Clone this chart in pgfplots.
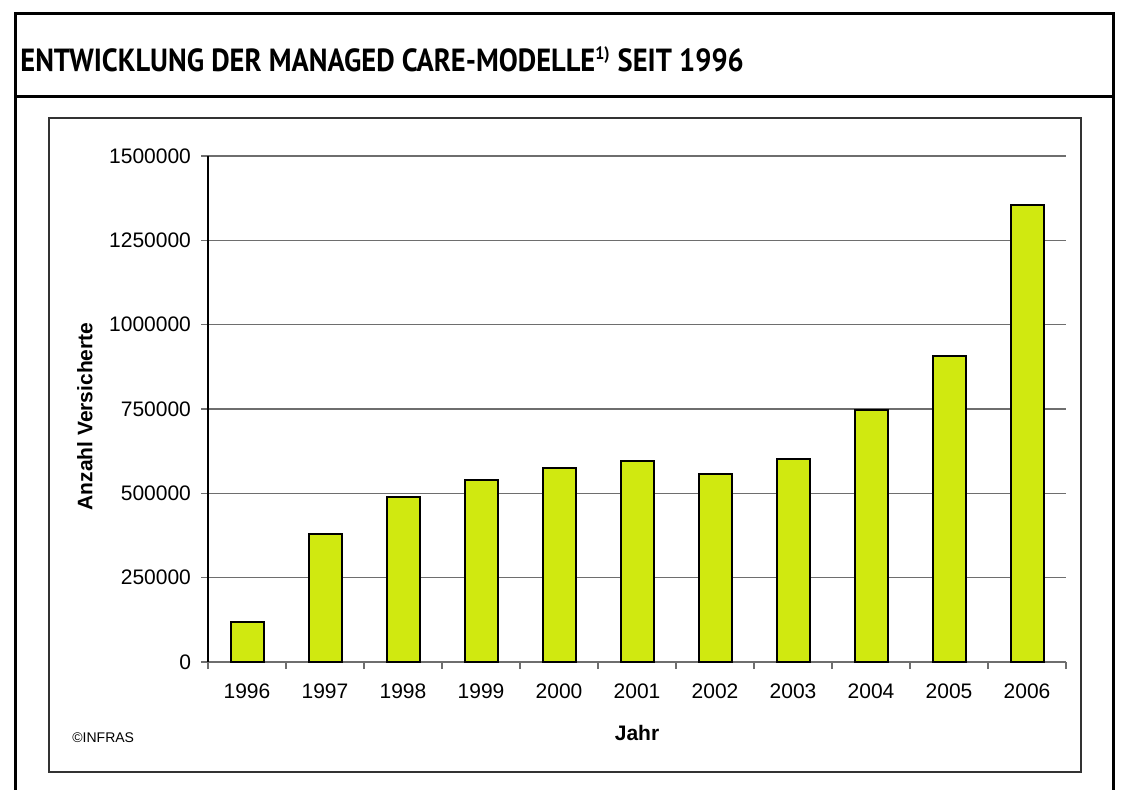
\documentclass[border=0pt]{standalone}
\usepackage{fontspec}
\setmainfont{Liberation Sans}
\newfontfamily\titlefont{PT Sans}
\usepackage{pgfplots}
\pgfplotsset{compat=1.18}
\definecolor{barfill}{RGB}{208,233,16}
\definecolor{gridgray}{RGB}{110,110,110}
\begin{document}
\begin{tikzpicture}
\useasboundingbox (0,0) rectangle (561pt,394.5pt);
% outer frame
\draw[line width=1.5pt] (7.5pt,-3pt) -- (7.5pt,387.5pt) -- (556.5pt,387.5pt) -- (556.5pt,-3pt);
\draw[line width=1.5pt] (7.5pt,346pt) -- (556.5pt,346pt);
\node[anchor=base west, inner sep=0pt, font=\titlefont\bfseries\fontsize{16}{18}\selectfont] at (10pt,358.5pt)
  {\scalebox{0.89}[1]{ENTWICKLUNG DER MANAGED CARE-MODELLE\textsuperscript{\fontsize{9}{10}\selectfont 1)} SEIT 1996}};
% inner frame
\draw[line width=0.8pt, black!80] (24.5pt,8.5pt) rectangle (540.5pt,335.5pt);
\node[anchor=west, inner sep=0pt, font=\fontsize{7}{8}\selectfont] at (36pt,25.5pt) {©INFRAS};
\begin{axis}[
  at={(104pt,63.5pt)}, anchor=south west,
  scale only axis, width=429pt, height=253pt,
  xmin=-0.5, xmax=10.5, ymin=0, ymax=1500000,
  axis lines*=left,
  axis line style={line width=0.6pt},
  x axis line style={gridgray},
  y axis line style={black},
  xtick={0,...,10},
  xticklabels={1996,1997,1998,1999,2000,2001,2002,2003,2004,2005,2006},
  major x tick style={draw=none},
  minor xtick={-0.5,0.5,...,10.5},
  minor x tick style={gridgray, line width=0.6pt},
  minor tick length=3.5pt,
  major tick length=3.5pt,
  tick align=outside,
  ytick={0,250000,...,1500000},
  y tick style={gridgray, line width=0.6pt},
  ymajorgrids,
  major grid style={gridgray, line width=0.6pt},
  scaled y ticks=false,
  yticklabel style={/pgf/number format/fixed, /pgf/number format/1000 sep={}},
  /pgf/number format/assume math mode=true,
  ticklabel style={font=\fontsize{10.5}{12}\selectfont},
  xticklabel style={yshift=-4pt},
  yticklabel style={xshift=-1.5pt},
  xlabel={\bfseries Jahr},
  ylabel={\bfseries Anzahl Versicherte},
  label style={font=\fontsize{10.5}{12}\selectfont},
  xlabel style={at={(axis description cs:0.5,-0.1403)}, anchor=center},
  ylabel style={at={(axis description cs:-0.1434,0.4853)}, anchor=center, rotate=0},
  ybar, bar width=16.5pt,
]
\addplot[fill=barfill, draw=black, line width=1pt] coordinates {
 (0,119500) (1,379500) (2,490000) (3,540600) (4,576000) (5,596000)
 (6,556500) (7,601000) (8,748000) (9,907000) (10,1355000)};
\end{axis}
\end{tikzpicture}
\end{document}
